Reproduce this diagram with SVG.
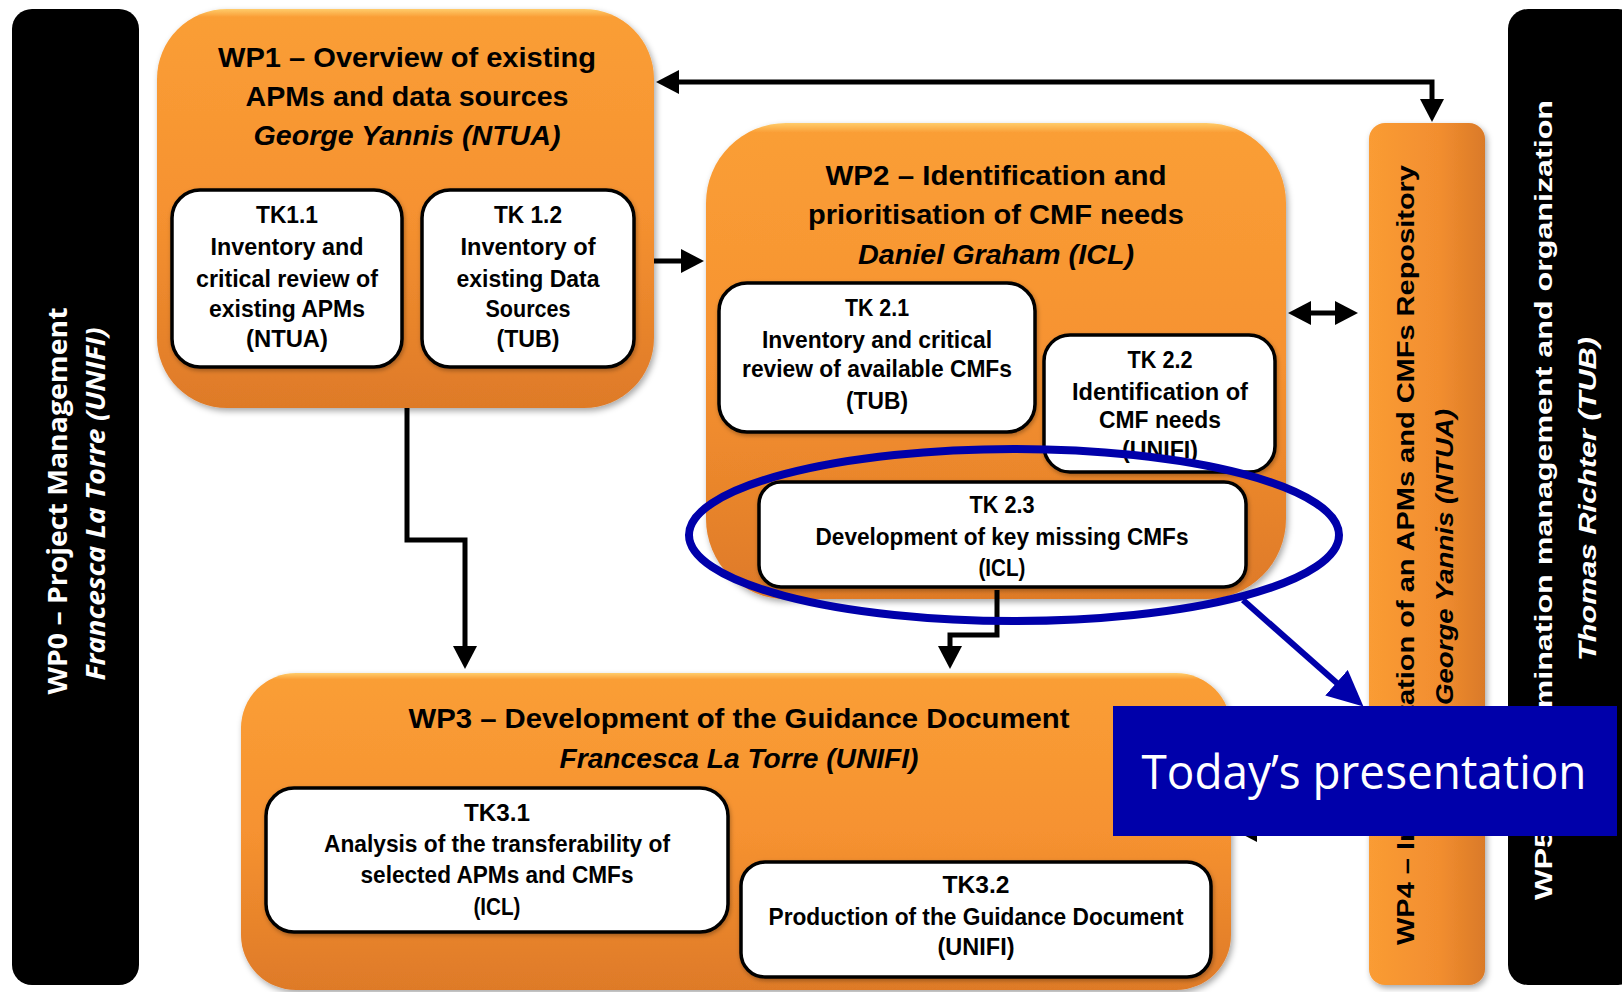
<svg xmlns="http://www.w3.org/2000/svg" width="1622" height="992" viewBox="0 0 1622 992">
<style>
.t{font-family:"Liberation Sans",Arial,sans-serif;font-weight:bold;fill:#000;text-anchor:middle}
.ttl{font-size:28px}
.tk{font-size:23px}
.it{font-style:italic}
.vw{font-family:"Open Sans","Liberation Sans",sans-serif;font-weight:bold;fill:#fff;text-anchor:middle;font-size:26px}
.vb{font-family:"Liberation Sans",Arial,sans-serif;font-weight:bold;text-anchor:middle;font-size:23px}
.orange{fill:url(#og);filter:url(#sh)}
.task{fill:#fff;stroke:#000;stroke-width:3.5;filter:url(#sh2)}
.bar{fill:#000}
.conn{fill:none;stroke:#000;stroke-width:5}
.blue{fill:none;stroke:#0000AA}
</style>
<defs>
<linearGradient id="og" x1="0" y1="0" x2="0" y2="1">
<stop offset="0" stop-color="#FFCC6A"/>
<stop offset="0.02" stop-color="#FA9E36"/>
<stop offset="0.5" stop-color="#F69230"/>
<stop offset="1" stop-color="#DE7A28"/>
</linearGradient>
<linearGradient id="og4" x1="0" y1="0" x2="1" y2="0">
<stop offset="0" stop-color="#FA9C34"/>
<stop offset="0.6" stop-color="#F28E2F"/>
<stop offset="1" stop-color="#DA7A28"/>
</linearGradient>
<filter id="sh" x="-5%" y="-5%" width="112%" height="112%">
<feDropShadow dx="2" dy="3" stdDeviation="3" flood-color="#000" flood-opacity="0.35"/>
</filter>
<filter id="sh2" x="-5%" y="-5%" width="112%" height="115%">
<feDropShadow dx="1" dy="2" stdDeviation="2" flood-color="#000" flood-opacity="0.3"/>
</filter>
<marker id="ah" markerUnits="userSpaceOnUse" viewBox="0 0 24 24" markerWidth="24" markerHeight="24" refX="1" refY="12" orient="auto-start-reverse">
<path d="M0,0 L23,12 L0,24 z" fill="#000"/>
</marker>
<marker id="bh" markerUnits="userSpaceOnUse" viewBox="0 0 36 34" markerWidth="36" markerHeight="34" refX="2" refY="17" orient="auto">
<path d="M0,0 L36,17 L0,34 z" fill="#0000AA"/>
</marker>
</defs>
<rect width="1622" height="992" fill="#fff"/>

<g id="wp0">
<rect class="bar" x="12" y="9" width="127" height="976" rx="20"/>
<text class="vw" transform="translate(67,501) rotate(-90)" textLength="387" lengthAdjust="spacingAndGlyphs">WP0 – Project Management</text>
<text class="vw" font-style="italic" transform="translate(105,504) rotate(-90)" textLength="353" lengthAdjust="spacingAndGlyphs">Francesca La Torre (UNIFI)</text>
</g>

<g id="wp5">
<rect class="bar" x="1508" y="9" width="130" height="976" rx="20"/>
<text class="vb" fill="#fff" transform="translate(1552,500) rotate(-90)" font-size="25" textLength="800" lengthAdjust="spacingAndGlyphs">WP5 – Dissemination management and organization</text>
<text class="vb it" fill="#fff" transform="translate(1596,499) rotate(-90)" font-size="25" textLength="324" lengthAdjust="spacingAndGlyphs">Thomas Richter (TUB)</text>
</g>

<g id="wp1">
<rect class="orange" x="157" y="9" width="497" height="399" rx="70"/>
<text class="t ttl" x="407" y="67" textLength="378" lengthAdjust="spacingAndGlyphs">WP1 – Overview of existing</text>
<text class="t ttl" x="407" y="106" textLength="323" lengthAdjust="spacingAndGlyphs">APMs and data sources</text>
<text class="t ttl it" x="407" y="145" textLength="307" lengthAdjust="spacingAndGlyphs">George Yannis (NTUA)</text>
</g>
<g id="tk11">
<rect class="task" x="172" y="190" width="230" height="177" rx="28"/>
<text class="t tk" x="287" y="223" textLength="62" lengthAdjust="spacingAndGlyphs">TK1.1</text>
<text class="t tk" x="287" y="255" textLength="153" lengthAdjust="spacingAndGlyphs">Inventory and</text>
<text class="t tk" x="287" y="287" textLength="182" lengthAdjust="spacingAndGlyphs">critical review of</text>
<text class="t tk" x="287" y="317" textLength="156" lengthAdjust="spacingAndGlyphs">existing APMs</text>
<text class="t tk" x="287" y="347" textLength="82" lengthAdjust="spacingAndGlyphs">(NTUA)</text>
</g>
<g id="tk12">
<rect class="task" x="422" y="190" width="212" height="177" rx="28"/>
<text class="t tk" x="528" y="223" textLength="68" lengthAdjust="spacingAndGlyphs">TK 1.2</text>
<text class="t tk" x="528" y="255" textLength="135" lengthAdjust="spacingAndGlyphs">Inventory of</text>
<text class="t tk" x="528" y="287" textLength="143" lengthAdjust="spacingAndGlyphs">existing Data</text>
<text class="t tk" x="528" y="317" textLength="85" lengthAdjust="spacingAndGlyphs">Sources</text>
<text class="t tk" x="528" y="347" textLength="63" lengthAdjust="spacingAndGlyphs">(TUB)</text>
</g>

<g id="wp2">
<rect class="orange" x="706" y="123" width="580" height="476" rx="80"/>
<text class="t ttl" x="996" y="185" textLength="341" lengthAdjust="spacingAndGlyphs">WP2 – Identification and</text>
<text class="t ttl" x="996" y="224" textLength="376" lengthAdjust="spacingAndGlyphs">prioritisation of CMF needs</text>
<text class="t ttl it" x="996" y="264" textLength="276" lengthAdjust="spacingAndGlyphs">Daniel Graham (ICL)</text>
</g>
<g id="tk21">
<rect class="task" x="719" y="283" width="316" height="149" rx="28"/>
<text class="t tk" x="877" y="316" textLength="64" lengthAdjust="spacingAndGlyphs">TK 2.1</text>
<text class="t tk" x="877" y="348" textLength="230" lengthAdjust="spacingAndGlyphs">Inventory and critical</text>
<text class="t tk" x="877" y="377" textLength="270" lengthAdjust="spacingAndGlyphs">review of available CMFs</text>
<text class="t tk" x="877" y="409" textLength="62" lengthAdjust="spacingAndGlyphs">(TUB)</text>
</g>
<g id="tk22">
<rect class="task" x="1044" y="335" width="231" height="137" rx="26"/>
<text class="t tk" x="1160" y="368" textLength="65" lengthAdjust="spacingAndGlyphs">TK 2.2</text>
<text class="t tk" x="1160" y="400" textLength="176" lengthAdjust="spacingAndGlyphs">Identification of</text>
<text class="t tk" x="1160" y="428" textLength="122" lengthAdjust="spacingAndGlyphs">CMF needs</text>
<text class="t tk" x="1160" y="458" textLength="76" lengthAdjust="spacingAndGlyphs">(UNIFI)</text>
</g>
<g id="tk23">
<rect class="task" x="759" y="482" width="487" height="105" rx="22"/>
<text class="t tk" x="1002" y="513" textLength="65" lengthAdjust="spacingAndGlyphs">TK 2.3</text>
<text class="t tk" x="1002" y="545" textLength="373" lengthAdjust="spacingAndGlyphs">Development of key missing CMFs</text>
<text class="t tk" x="1002" y="576" textLength="47" lengthAdjust="spacingAndGlyphs">(ICL)</text>
</g>

<g id="wp3">
<rect class="orange" x="241" y="673" width="990" height="317" rx="55"/>
<text class="t ttl" x="739" y="728" textLength="661" lengthAdjust="spacingAndGlyphs">WP3 – Development of the Guidance Document</text>
<text class="t ttl it" x="739" y="768" textLength="359" lengthAdjust="spacingAndGlyphs">Francesca La Torre (UNIFI)</text>
</g>
<g id="tk31">
<rect class="task" x="266" y="788" width="462" height="144" rx="28"/>
<text class="t tk" x="497" y="821" textLength="66" lengthAdjust="spacingAndGlyphs">TK3.1</text>
<text class="t tk" x="497" y="852" textLength="346" lengthAdjust="spacingAndGlyphs">Analysis of the transferability of</text>
<text class="t tk" x="497" y="883" textLength="273" lengthAdjust="spacingAndGlyphs">selected APMs and CMFs</text>
<text class="t tk" x="497" y="915" textLength="47" lengthAdjust="spacingAndGlyphs">(ICL)</text>
</g>
<g id="tk32">
<rect class="task" x="741" y="862" width="470" height="115" rx="24"/>
<text class="t tk" x="976" y="893" textLength="67" lengthAdjust="spacingAndGlyphs">TK3.2</text>
<text class="t tk" x="976" y="925" textLength="415" lengthAdjust="spacingAndGlyphs">Production of the Guidance Document</text>
<text class="t tk" x="976" y="955" textLength="77" lengthAdjust="spacingAndGlyphs">(UNIFI)</text>
</g>

<g id="wp4">
<rect x="1369" y="123" width="116" height="862" rx="16" fill="url(#og4)" filter="url(#sh)"/>
<text class="vb" transform="translate(1414,555) rotate(-90)" textLength="780" lengthAdjust="spacingAndGlyphs">WP4 – Implementation of an APMs and CMFs Repository</text>
<text class="vb it" transform="translate(1453,557) rotate(-90)" textLength="296" lengthAdjust="spacingAndGlyphs">George Yannis (NTUA)</text>
</g>

<g id="connectors">
<path class="conn" d="M678 82 H1432 V100" marker-start="url(#ah)" marker-end="url(#ah)"/>
<path class="conn" d="M654 261 H682" marker-end="url(#ah)"/>
<path class="conn" d="M1310 313 H1336" marker-start="url(#ah)" marker-end="url(#ah)"/>
<path class="conn" d="M407 408 V540 H465 V647" marker-end="url(#ah)"/>
<path class="conn" d="M997 590 V635 H950 V647" marker-end="url(#ah)"/>
<path class="conn" d="M1369 830 H1256" marker-end="url(#ah)"/>
</g>

<g id="highlight">
<ellipse class="blue" cx="1014" cy="535" rx="325" ry="86" stroke-width="8"/>
<path class="blue" d="M1243 600 L1338 684" stroke-width="6" marker-end="url(#bh)"/>
</g>

<g id="today">
<rect x="1113" y="706" width="504" height="130" fill="#0000AA"/>
<text x="1364" y="789" font-family="Open Sans, Liberation Sans, sans-serif" font-size="47" fill="#fff" text-anchor="middle" textLength="445" lengthAdjust="spacingAndGlyphs">Today’s presentation</text>
</g>
</svg>
